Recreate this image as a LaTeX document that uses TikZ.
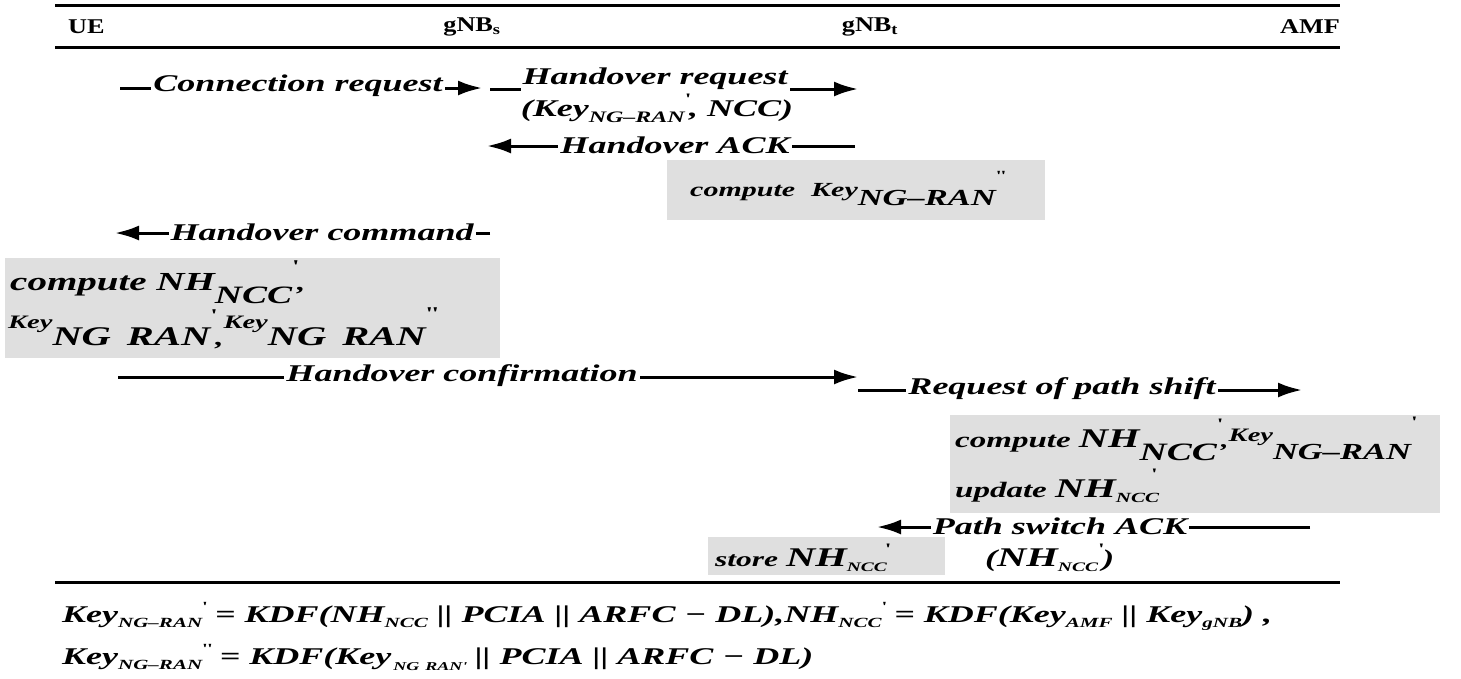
\documentclass[tikz,border=0pt]{standalone}
\usepackage{fontspec}
\setmainfont{Liberation Serif}
\newfontfamily\msgfont{Liberation Serif}[FakeStretch=1.5]
\newfontfamily\hdrfont{Liberation Serif}[FakeStretch=1.25]
\usetikzlibrary{arrows.meta}
\newcommand\fs[1]{\fontsize{#1}{#1}\selectfont}
\newcommand\pr[1]{{\upshape\fs{#1}\textquotesingle}}
\newcommand\ppr[1]{{\upshape\fs{#1}\textquotesingle\kern1pt\textquotesingle}}
\tikzset{
  msg/.style={font=\msgfont\bfseries\itshape\fs{24}, fill=white, inner sep=2pt},
  arr/.style={line width=3pt, -{Latex[length=24pt,width=15pt]}},
  hrule/.style={line width=3pt},
  hdr/.style={font=\hdrfont\bfseries\fs{21}, inner sep=0pt},
  gbox/.style={fill=gray!25, draw=none, inner sep=0pt, anchor=north west},
  btxt/.style={font=\msgfont\bfseries\itshape\fs{24}, inner sep=0pt, anchor=base west},
}
\begin{document}
\begin{tikzpicture}[x=1pt,y=-1pt]
\useasboundingbox (0,0) rectangle (1461,678);
% header rules
\coordinate (ta) at (55,5); \coordinate (tb) at (1340,5);
\coordinate (ma) at (55,47); \coordinate (mb) at (1340,47);
\coordinate (ba) at (55,582); \coordinate (bb) at (1340,582);
\draw[hrule] (ta) -- (tb);
\draw[hrule] (ma) -- (mb);
\draw[hrule] (ba) -- (bb);
% header labels
\node[hdr, anchor=west] (ue) at (68,27) {UE};
\node[hdr] (gs) at (472,27) {gNB\textsubscript{s}};
\node[hdr] (gt) at (870,27) {gNB\textsubscript{t}};
\node[hdr, anchor=east] (amf) at (1340,27) {AMF};
% gray boxes
\node[gbox, minimum width=378pt, minimum height=60pt] (b1) at (667,160) {};
\node[gbox, minimum width=495pt, minimum height=100pt] (b2) at (5,258) {};
\node[gbox, minimum width=490pt, minimum height=98pt] (b3) at (950,415) {};
\node[gbox, minimum width=237pt, minimum height=38pt] (b4) at (708,537) {};
% messages
\coordinate (m1s) at (120,88); \coordinate (m1e) at (482,88);
\draw[arr] (m1s) -- (m1e);
\node[msg] (l1) at (298,86) {Connection request};

\coordinate (m2s) at (490,89); \coordinate (m2e) at (858,89);
\draw[arr] (m2s) -- (m2e);
\node[msg] (l2) at (655,79) {Handover request};
\node[btxt, anchor=base] (l2b) at (657,116) {(Key\raisebox{-6pt}{\fs{16}NG–RAN}\raisebox{12pt}{\pr{16}}, NCC)};

\coordinate (m3s) at (855,146); \coordinate (m3e) at (487,146);
\draw[arr] (m3s) -- (m3e);
\node[msg] (l3) at (675,145) {Handover ACK};

\node[btxt] (t1) at (690,196) {{\fs{20}compute\hspace{16pt}Key}\raisebox{-9pt}{\fs{23}NG–RAN}\raisebox{16pt}{\ppr{14}}};

\coordinate (m4s) at (490,233); \coordinate (m4e) at (115,233);
\draw[arr] (m4s) -- (m4e);
\node[msg] (l4) at (322,232) {Handover command};

\node[btxt] (t2a) at (10,290) {{\fs{26}compute NH}\raisebox{-13pt}{\fs{25}NCC}\raisebox{18pt}{\pr{18}}{\fs{22},}};
\node[btxt] (t2b) at (8,345) {\raisebox{17pt}{\fs{19}Key}{\fs{27}NG\hspace{16pt}RAN}\raisebox{24pt}{\pr{18}}{\fs{22},}\raisebox{17pt}{\fs{19}Key}{\fs{27}NG\hspace{16pt}RAN}\raisebox{26pt}{\ppr{18}}};

\coordinate (m5s) at (118,377); \coordinate (m5e) at (858,377);
\draw[arr] (m5s) -- (m5e);
\node[msg] (l5) at (462,376) {Handover confirmation};

\coordinate (m6s) at (858,390); \coordinate (m6e) at (1302,390);
\draw[arr] (m6s) -- (m6e);
\node[msg] (l6) at (1062,389) {Request of path shift};

\node[btxt] (t3a) at (955,447) {{\fs{22}compute }{\fs{27}NH}\raisebox{-13pt}{\fs{25}NCC}\raisebox{18pt}{\pr{16}}{\fs{20},}\raisebox{6pt}{\fs{19}Key}\raisebox{-12pt}{\fs{23}NG–RAN}\raisebox{20pt}{\pr{16}}};
\node[btxt] (t3b) at (955,497) {{\fs{22}update }{\fs{27}NH}\raisebox{-5pt}{\fs{14}NCC}\hspace{-8pt}\raisebox{18pt}{\pr{16}}};

\coordinate (m7s) at (1310,527); \coordinate (m7e) at (877,527);
\draw[arr] (m7s) -- (m7e);
\node[msg] (l7) at (1060,526) {Path switch ACK};

\node[btxt] (t4) at (715,566) {{\fs{21}store }{\fs{27}NH}\raisebox{-5pt}{\fs{13}NCC}\hspace{-2pt}\raisebox{12pt}{\pr{16}}};
\node[btxt] (t5) at (985,566) {{\fs{24}(}{\fs{27}NH}\raisebox{-5pt}{\fs{13}NCC}\raisebox{12pt}{\pr{16}}{\fs{24})}};

% formulas
\node[btxt] (f1) at (62,622) {Key\raisebox{-5pt}{\fs{14}NG–RAN}\raisebox{11pt}{\pr{14}} = KDF(NH\raisebox{-5pt}{\fs{14}NCC} || PCIA || ARFC − DL),NH\raisebox{-5pt}{\fs{14}NCC}\raisebox{11pt}{\pr{14}} = KDF(Key\raisebox{-5pt}{\fs{14}AMF} || Key\raisebox{-5pt}{\fs{14}gNB}) ,};
\node[btxt] (f2) at (62,664) {Key\raisebox{-5pt}{\fs{14}NG–RAN}\raisebox{11pt}{\ppr{14}} = KDF(Key\raisebox{-6pt}{\fs{12}\,NG\hspace{6pt}RAN\textquotesingle} || PCIA || ARFC − DL)};
\end{tikzpicture}
\end{document}
